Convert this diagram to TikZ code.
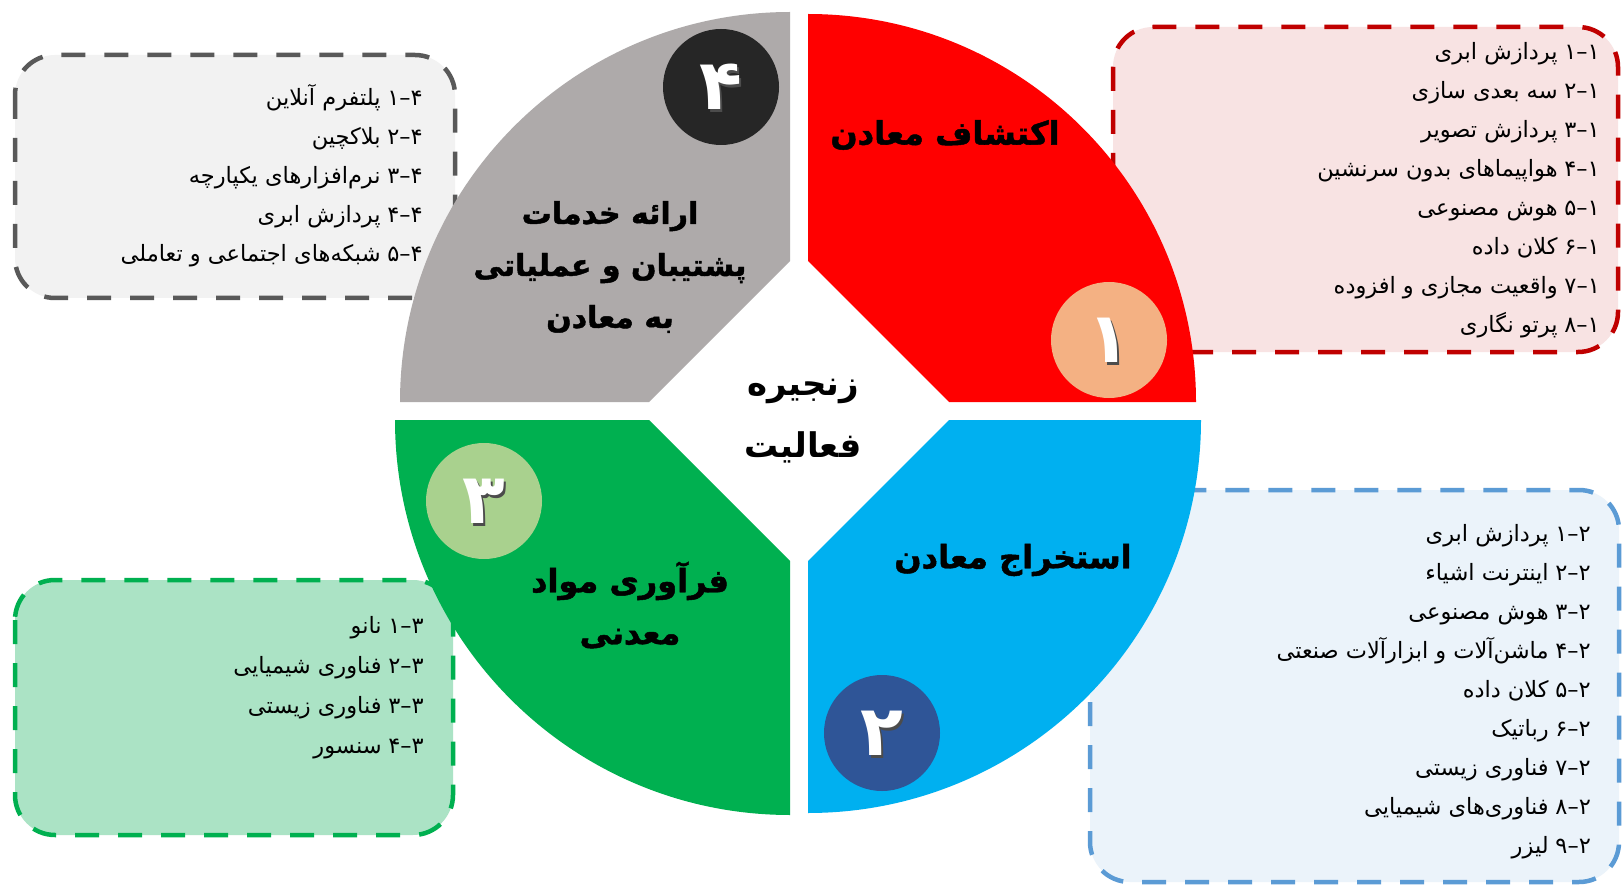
\documentclass[tikz,border=0pt]{standalone}
\usepackage{fontspec}
\newfontfamily\fa[Script=Arabic]{DejaVu Sans}
\newfontfamily\fah[Script=Arabic,FakeBold=1.5]{DejaVu Sans Bold}
\TeXXeTstate=1
\definecolor{qgray}{HTML}{AEAAAA}
\definecolor{qred}{HTML}{FF0000}
\definecolor{qgreen}{HTML}{00B050}
\definecolor{qblue}{HTML}{00B0F0}
\definecolor{cfour}{HTML}{262626}
\definecolor{cone}{HTML}{F4B183}
\definecolor{cthree}{HTML}{A9D18E}
\definecolor{ctwo}{HTML}{2F5597}
\definecolor{bonefill}{HTML}{F8E3E3}
\definecolor{boneline}{HTML}{C00000}
\definecolor{btwofill}{HTML}{EBF3FA}
\definecolor{btwoline}{HTML}{5B9BD5}
\definecolor{bthreefill}{HTML}{ABE3C5}
\definecolor{bthreeline}{HTML}{00B050}
\definecolor{bfourfill}{HTML}{F2F2F2}
\definecolor{bfourline}{HTML}{595959}
\newcommand\itemline[3]{\hbox{\beginR #3\endR}\hspace{0.3em}\hbox{#1}\hbox{–}\hbox{#2}}
\newcommand\rl[1]{\beginR #1\endR}
\begin{document}
\begin{tikzpicture}[x=1pt,y=-1pt,
  itm/.style={anchor=east, inner sep=0pt, font=\fa\fontsize{22.5}{26}\selectfont, text height=15pt, text depth=6pt},
  ttl/.style={font=\fah\fontsize{32}{52}\selectfont, align=center, inner sep=0pt},
  ctr/.style={font=\fa\bfseries\fontsize{34}{62}\selectfont, align=center, inner sep=0pt},
  numc/.style={circle, minimum size=116pt, inner sep=0pt},
  dig/.style={font=\fa\bfseries\fontsize{70}{70}\selectfont, text=white, inner sep=0pt},
  digsh/.style={font=\fa\bfseries\fontsize{70}{70}\selectfont, text=black!70, inner sep=0pt},
  listbox/.style={line width=4.5pt, dash pattern=on 24pt off 19pt, rounded corners=40pt}]
\useasboundingbox[fill=white] (0,0) rectangle (1622,885);
% list boxes (behind the quadrants)
\draw[listbox, draw=boneline, fill=bonefill] (1113,27) rectangle (1618,352);
\draw[listbox, draw=btwoline, fill=btwofill] (1090,490) rectangle (1619,882);
\draw[listbox, draw=bthreeline, fill=bthreefill] (15,580) rectangle (453,835);
\draw[listbox, draw=bfourline, fill=bfourfill] (15,55) rectangle (455,298);
% quadrants
\fill[qgray] (790,261) -- (790,12) arc[start angle=-90, end angle=-180, radius=390] -- (649,402) -- cycle;
\fill[qred] (808,261) -- (808,14) arc[start angle=-90, end angle=0, radius=388] -- (949,402) -- cycle;
\fill[qgreen] (790,561) -- (790,815) arc[start angle=90, end angle=180, radius=395] -- (649,420) -- cycle;
\fill[qblue] (949,420) -- (1201,420) arc[start angle=0, end angle=90, radius=393] -- (808,561) -- cycle;
% number circles
\node[numc, fill=cfour] (c4) at (721,87) {};
\node[numc, fill=cone] (c1) at (1109,340) {};
\node[numc, fill=cthree] (c3) at (484,501) {};
\node[numc, fill=ctwo] (c2) at (882,733) {};
\foreach \c/\d in {c4/۴, c1/۱, c3/۳, c2/۲}{
  \node[digsh] (\c s) at ([shift={(2,3)}]\c) {\d};
  \node[dig] (\c d) at (\c) {\d};
}
% titles
\node[ttl] (t1) at (945,135) {\rl{اکتشاف معادن}};
\node[ttl] (t2) at (1013,560) {\rl{استخراج معادن}};
\node[ttl] (t3) at (630,605) {\rl{فرآوری مواد}\\\rl{معدنی}};
\node[ttl, font=\fah\fontsize{30}{52}\selectfont] (t4) at (610,267) {\rl{ارائه خدمات}\\\rl{پشتیبان و عملیاتی}\\\rl{به معادن}};
\node[ctr] (tc) at (803,421) {\rl{زنجیره}\\\rl{فعالیت}};
% lists
\foreach [count=\k] \n/\t in {۱/پردازش ابری, ۲/سه بعدی سازی, ۳/پردازش تصویر, ۴/هواپیماهای بدون سرنشین, ۵/هوش مصنوعی, ۶/کلان داده, ۷/واقعیت مجازی و افزوده, ۸/پرتو نگاری}{
  \node[itm] (l1-\k) at (1600,{55+39*(\k-1)}) {\itemline{\n}{۱}{\t}};
}
\foreach [count=\k] \n/\t in {۱/پردازش ابری, ۲/اینترنت اشیاء, ۳/هوش مصنوعی, ۴/ماشن^^^^200cآلات و ابزارآلات صنعتی, ۵/کلان داده, ۶/رباتیک, ۷/فناوری زیستی, ۸/فناوری^^^^200cهای شیمیایی, ۹/لیزر}{
  \node[itm] (l2-\k) at (1591,{537+39*(\k-1)}) {\itemline{\n}{۲}{\t}};
}
\foreach [count=\k] \n/\t in {۱/نانو, ۲/فناوری شیمیایی, ۳/فناوری زیستی, ۴/سنسور}{
  \node[itm] (l3-\k) at (424,{629+40*(\k-1)}) {\itemline{\n}{۳}{\t}};
}
\foreach [count=\k] \n/\t in {۱/پلتفرم آنلاین, ۲/بلاکچین, ۳/نرم^^^^200cافزارهای یکپارچه, ۴/پردازش ابری, ۵/شبکه^^^^200cهای اجتماعی و تعاملی}{
  \node[itm] (l4-\k) at (423,{101+39*(\k-1)}) {\itemline{\n}{۴}{\t}};
}
\end{tikzpicture}
\end{document}
